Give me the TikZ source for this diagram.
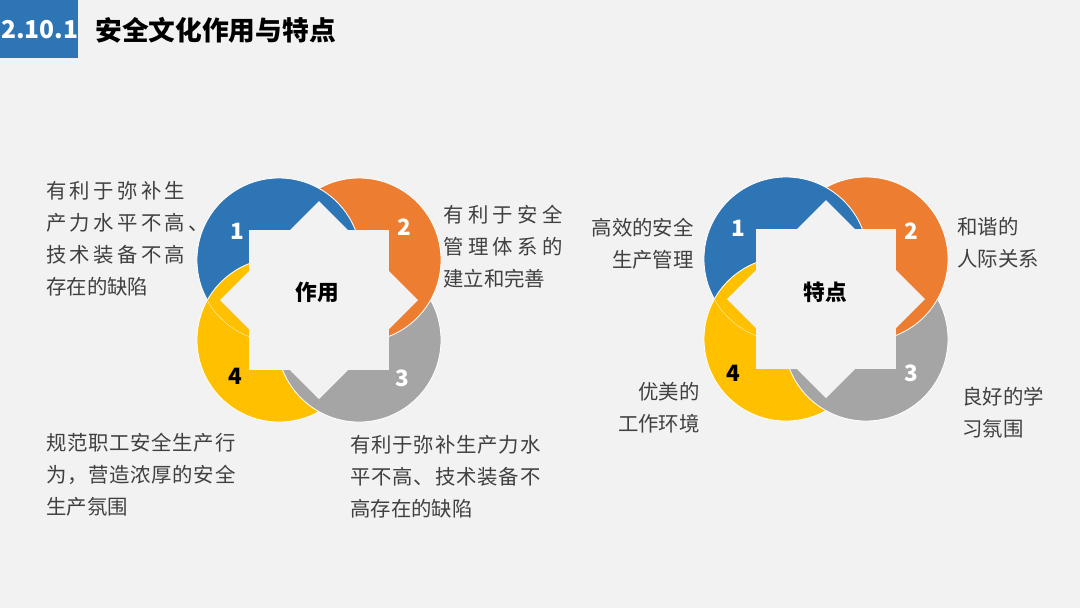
\documentclass[tikz,border=0pt]{standalone}
\usepackage{fontspec}
\setmainfont{Noto Sans CJK SC}
\usetikzlibrary{positioning}

\definecolor{fond}{HTML}{F2F2F2}
\definecolor{bleu}{HTML}{2E75B6}
\definecolor{orangep}{HTML}{ED7D31}
\definecolor{gris}{HTML}{A5A5A5}
\definecolor{jaune}{HTML}{FFC000}
\definecolor{encre}{HTML}{404040}

\makeatletter
\newcommand\espace[2]{\@tfor\esp@c:=#2\do{\esp@c\kern#1}\unkern}
\makeatother

\begin{document}
\begin{tikzpicture}[x=0.025cm, y=-0.025cm,
    petale/.style={draw=white, line width=0.6pt},
    chiffre/.style={font=\fontsize{16}{18}\selectfont\bfseries, text=white},
    texte/.style={font=\fontsize{14.5}{22.7}\selectfont, text=encre, inner sep=0pt}]
        % Fond
        \fill[fond] (0,0) rectangle (1080,608);
        \useasboundingbox (0,0) rectangle (1080,608);

        % Titre
        \fill[bleu] (0,0) rectangle (78,58);
        \node[anchor=west, inner sep=0pt, text=white, font=\fontsize{17.5}{20}\selectfont\bfseries] (numero) at (1,30) {2.10.1};
        \node[anchor=west, inner sep=0pt, font=\fontsize{19}{22}\selectfont\bfseries] (titre) at (95,30) {安全文化作用与特点};

        % Les deux fleurs (petales + etoile)
        \foreach \xc/\yc in {319/300, 826/299} {
            \filldraw[jaune, petale] (\xc-40,\yc+40) circle (2.05cm);
            \filldraw[gris, petale] (\xc+40,\yc+40) circle (2.05cm);
            \filldraw[orangep, petale] (\xc+40,\yc-40) circle (2.05cm);
            \filldraw[bleu, petale] (\xc-40,\yc-40) circle (2.05cm);
            \begin{scope}
                \clip (\xc-40,\yc-40) circle (2.05cm);
                \filldraw[jaune, petale] (\xc-40,\yc+40) circle (2.05cm);
            \end{scope}
            % Etoile a huit branches
            \fill[fond] (\xc-70,\yc-70) rectangle (\xc+70,\yc+70);
            \fill[fond] (\xc-99,\yc) -- (\xc,\yc-99) -- (\xc+99,\yc) -- (\xc,\yc+99) -- cycle;
        }

        % Numeros et centre : fleur de gauche
        \node[chiffre] (a1) at (237,231) {1};
        \node[chiffre] (a2) at (404,227) {2};
        \node[chiffre] (a3) at (402,378) {3};
        \node[chiffre, text=black] (a4) at (235,376) {4};
        \node[font=\fontsize{15.4}{18}\selectfont\bfseries] (centreA) at (317,292) {作用};

        % Numeros et centre : fleur de droite
        \node[chiffre] (b1) at (738,228) {1};
        \node[chiffre] (b2) at (911,231) {2};
        \node[chiffre] (b3) at (911,373) {3};
        \node[chiffre, text=black] (b4) at (733,373) {4};
        \node[font=\fontsize{15.4}{18}\selectfont\bfseries] (centreB) at (825,292) {特点};

        % Textes de la fleur de gauche
        \node[texte, anchor=north west, align=left] (txtA1) at (46,181)
            {\espace{2.35pt}{有利于弥补生}\\ \espace{2.35pt}{产力水平不高、}\\ \espace{2.35pt}{技术装备不高}\\ 存在的缺陷};
        \node[texte, anchor=north west, align=left] (txtA2) at (443,205)
            {\espace{3.1pt}{有利于安全}\\ \espace{3.1pt}{管理体系的}\\ 建立和完善};
        \node[texte, anchor=north west, align=left] (txtA3) at (350,435)
            {\espace{0.6pt}{有利于弥补生产力水}\\ \espace{0.6pt}{平不高、技术装备不}\\ 高存在的缺陷};
        \node[texte, anchor=north west, align=left] (txtA4) at (46,433)
            {\espace{0.5pt}{规范职工安全生产行}\\ \espace{0.5pt}{为，营造浓厚的安全}\\ 生产氛围};

        % Textes de la fleur de droite
        \node[texte, anchor=north east, align=right] (txtB1) at (694,218) {高效的安全\\ 生产管理};
        \node[texte, anchor=north west, align=left] (txtB2) at (957,217) {和谐的\\ 人际关系};
        \node[texte, anchor=north west, align=left] (txtB3) at (962,387) {良好的学\\ 习氛围};
        \node[texte, anchor=north east, align=right] (txtB4) at (700,382) {优美的\\ 工作环境};

    \end{tikzpicture}
\end{document}
